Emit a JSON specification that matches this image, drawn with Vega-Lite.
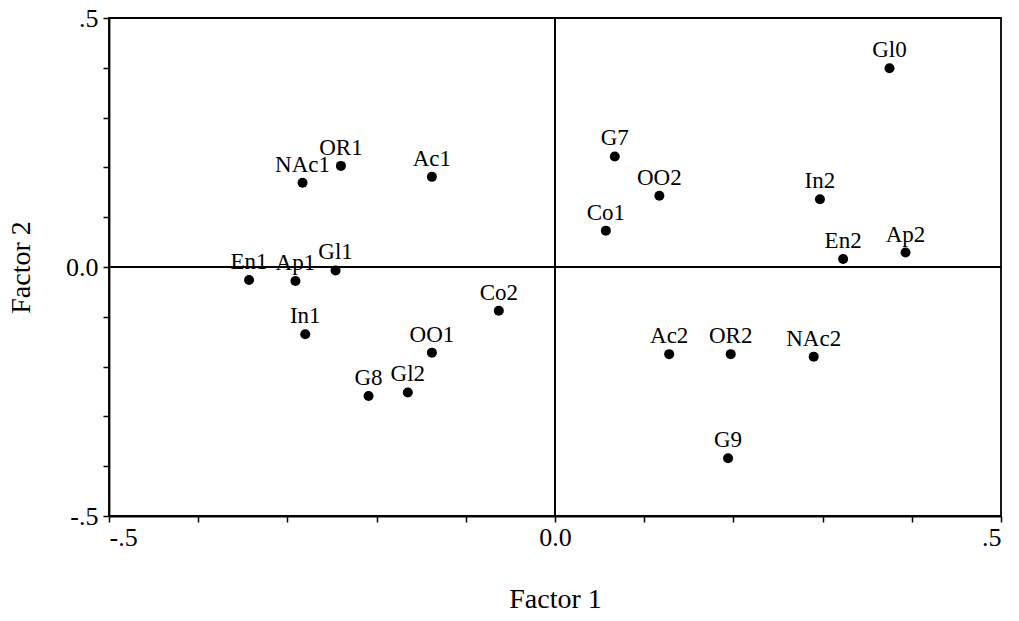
{
  "$schema": "https://vega.github.io/schema/vega-lite/v6.json",
  "width": 892,
  "height": 498,
  "autosize": {"type": "none"},
  "padding": {"left": 109, "top": 18, "right": 18, "bottom": 105},
  "background": "white",
  "config": {
    "font": "Liberation Serif",
    "view": {"stroke": "black", "strokeWidth": 1.8},
    "axis": {
      "grid": false,
      "domainColor": "black",
      "domainWidth": 1.8,
      "tickColor": "black",
      "tickWidth": 1.5,
      "tickSize": 6,
      "labelFont": "Liberation Serif",
      "labelFontSize": 26,
      "labelColor": "black",
      "titleFont": "Liberation Serif",
      "titleFontSize": 28,
      "titleFontWeight": "normal",
      "titleColor": "black",
      "labelOverlap": false
    }
  },
  "data": {
    "values": [
      {"label": "Gl0", "f1": 0.375, "f2": 0.399},
      {"label": "G7", "f1": 0.067, "f2": 0.222},
      {"label": "OO2", "f1": 0.117, "f2": 0.143},
      {"label": "In2", "f1": 0.297, "f2": 0.136},
      {"label": "Co1", "f1": 0.057, "f2": 0.073},
      {"label": "En2", "f1": 0.323, "f2": 0.016},
      {"label": "Ap2", "f1": 0.393, "f2": 0.029},
      {"label": "Ac2", "f1": 0.128, "f2": -0.175},
      {"label": "OR2", "f1": 0.197, "f2": -0.175},
      {"label": "NAc2", "f1": 0.290, "f2": -0.180},
      {"label": "G9", "f1": 0.194, "f2": -0.384},
      {"label": "NAc1", "f1": -0.283, "f2": 0.169},
      {"label": "OR1", "f1": -0.240, "f2": 0.203},
      {"label": "Ac1", "f1": -0.138, "f2": 0.181},
      {"label": "En1", "f1": -0.343, "f2": -0.026},
      {"label": "Ap1", "f1": -0.291, "f2": -0.028},
      {"label": "Gl1", "f1": -0.246, "f2": -0.007},
      {"label": "Co2", "f1": -0.063, "f2": -0.088},
      {"label": "In1", "f1": -0.280, "f2": -0.135},
      {"label": "OO1", "f1": -0.138, "f2": -0.172},
      {"label": "G8", "f1": -0.209, "f2": -0.259},
      {"label": "Gl2", "f1": -0.165, "f2": -0.252}
    ]
  },
  "encoding": {
    "x": {
      "field": "f1", "type": "quantitative", "title": "Factor 1",
      "scale": {"domain": [-0.5, 0.5], "nice": false, "zero": false},
      "axis": {
        "values": [-0.5, -0.4, -0.3, -0.2, -0.1, 0, 0.1, 0.2, 0.3, 0.4, 0.5],
        "labelExpr": "abs(datum.value) < 0.001 ? '0.0' : (abs(datum.value) > 0.499 ? (datum.value < 0 ? '-.5' : '.5') : '')",
        "labelPadding": 2,
        "titlePadding": 35
      }
    },
    "y": {
      "field": "f2", "type": "quantitative", "title": "Factor 2",
      "scale": {"domain": [-0.5, 0.5], "nice": false, "zero": false},
      "axis": {
        "values": [-0.5, -0.4, -0.3, -0.2, -0.1, 0, 0.1, 0.2, 0.3, 0.4, 0.5],
        "labelExpr": "abs(datum.value) < 0.001 ? '0.0' : (abs(datum.value) > 0.499 ? (datum.value < 0 ? '-.5' : '.5') : '')",
        "labelPadding": 5,
        "titlePadding": 30
      }
    }
  },
  "layer": [
    {
      "mark": {"type": "rule", "color": "black", "strokeWidth": 1.6},
      "encoding": {"x": {"datum": 0}, "y": null}
    },
    {
      "mark": {"type": "rule", "color": "black", "strokeWidth": 1.6},
      "encoding": {"y": {"datum": 0}, "x": null}
    },
    {
      "mark": {"type": "circle", "color": "black", "opacity": 1, "size": 100}
    },
    {
      "mark": {"type": "text", "font": "Liberation Serif", "fontSize": 23, "color": "black", "baseline": "alphabetic", "align": "center", "dy": -11},
      "encoding": {"text": {"field": "label"}}
    }
  ]
}
